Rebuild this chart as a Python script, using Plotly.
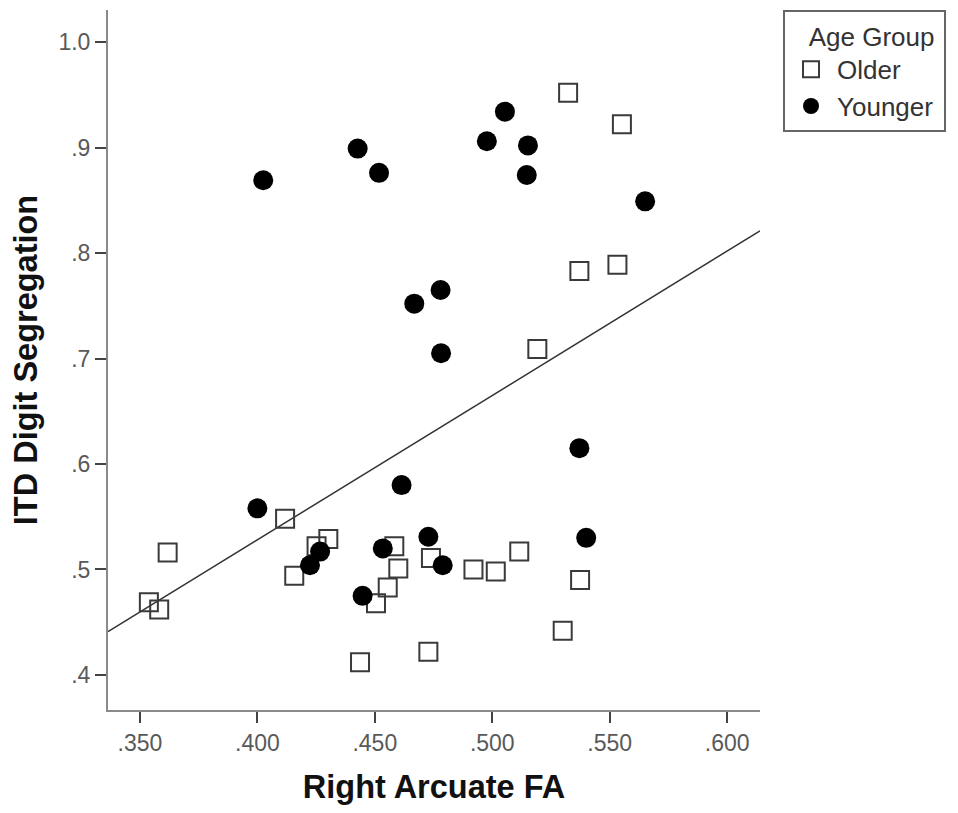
import plotly.graph_objects as go

# Older group (open squares)
older_fa = [0.5323, 0.5552, 0.5371, 0.5533, 0.5192, 0.5374, 0.5300, 0.5115, 0.5015,
            0.4920, 0.4118, 0.3618, 0.3538, 0.3582, 0.4157, 0.4252, 0.4302, 0.4583,
            0.4600, 0.4555, 0.4505, 0.4739, 0.4437, 0.4728]
older_itd = [0.952, 0.922, 0.783, 0.789, 0.709, 0.490, 0.442, 0.517, 0.498,
             0.500, 0.548, 0.516, 0.469, 0.462, 0.494, 0.522, 0.529, 0.522,
             0.501, 0.483, 0.468, 0.511, 0.412, 0.422]

# Younger group (filled circles)
younger_fa = [0.4025, 0.4427, 0.4518, 0.4668, 0.4780, 0.4782, 0.5054, 0.4977, 0.5152,
              0.5147, 0.5651, 0.5371, 0.5400, 0.4000, 0.4224, 0.4267, 0.4614, 0.4534,
              0.4448, 0.4728, 0.4789]
younger_itd = [0.869, 0.899, 0.876, 0.752, 0.765, 0.705, 0.934, 0.906, 0.902,
               0.874, 0.849, 0.615, 0.530, 0.558, 0.504, 0.517, 0.580, 0.520,
               0.475, 0.531, 0.504]

# Total fit line
fit_slope = 1.369
fit_intercept = -0.0195

x_range = [0.3364, 0.614]
y_range = [0.3668, 1.0304]

x_tickvals = [0.35, 0.40, 0.45, 0.50, 0.55, 0.60]
x_ticktext = [".350", ".400", ".450", ".500", ".550", ".600"]
y_tickvals = [0.4, 0.5, 0.6, 0.7, 0.8, 0.9, 1.0]
y_ticktext = [".4", ".5", ".6", ".7", ".8", ".9", "1.0"]

fig = go.Figure()

fit_x = x_range
fit_y = [fit_intercept + fit_slope * v for v in fit_x]
fig.add_trace(go.Scatter(
    x=fit_x, y=fit_y, mode="lines",
    line=dict(color="#333333", width=1.5),
    showlegend=False, hoverinfo="skip"))

fig.add_trace(go.Scatter(
    x=older_fa, y=older_itd, mode="markers", name="Older",
    marker=dict(symbol="square-open", size=18, color="#3a3a3a",
                line=dict(width=2, color="#3a3a3a"))))

fig.add_trace(go.Scatter(
    x=younger_fa, y=younger_itd, mode="markers", name="Younger",
    marker=dict(symbol="circle", size=20, color="black",
                line=dict(width=0))))

axis_font = dict(family="Liberation Sans, Arial, sans-serif", size=23, color="#595959")
title_font = dict(family="Liberation Sans, Arial, sans-serif", size=32.5, color="#111111")

# page body has an 8px margin; figure is sized/margined to compensate
fig.update_layout(
    width=942, height=797,
    margin=dict(l=100, r=190, t=2, b=95),
    paper_bgcolor="white", plot_bgcolor="white",
    font=dict(family="Liberation Sans, Arial, sans-serif"),
    xaxis=dict(
        range=x_range, tickvals=x_tickvals, ticktext=x_ticktext,
        showgrid=False, zeroline=False,
        showline=True, linecolor="#8a8a8a", linewidth=2,
        ticks="outside", ticklen=11, tickwidth=2, tickcolor="#444444",
        tickfont=axis_font,
        title=dict(text="<b>Right Arcuate FA</b>", font=title_font, standoff=22),
    ),
    yaxis=dict(
        range=y_range, tickvals=y_tickvals, ticktext=y_ticktext,
        showgrid=False, zeroline=False,
        showline=True, linecolor="#8a8a8a", linewidth=2,
        ticks="outside", ticklen=11, tickwidth=2, tickcolor="#444444",
        tickfont=axis_font,
        title=dict(text="<b>ITD Digit Segregation</b>", font=title_font, standoff=15),
    ),
    legend=dict(
        x=1.0353, y=1.0, xanchor="left", yanchor="top",
        title=dict(text="\u00a0\u00a0\u00a0Age Group\u00a0", font=dict(size=26, color="#333333")),
        font=dict(size=26, color="#333333"),
        bordercolor="#666666", borderwidth=2,
        bgcolor="white",
        itemsizing="trace",
        itemwidth=42,
        tracegroupgap=0,
    ),
)

fig.write_html("out.html")
